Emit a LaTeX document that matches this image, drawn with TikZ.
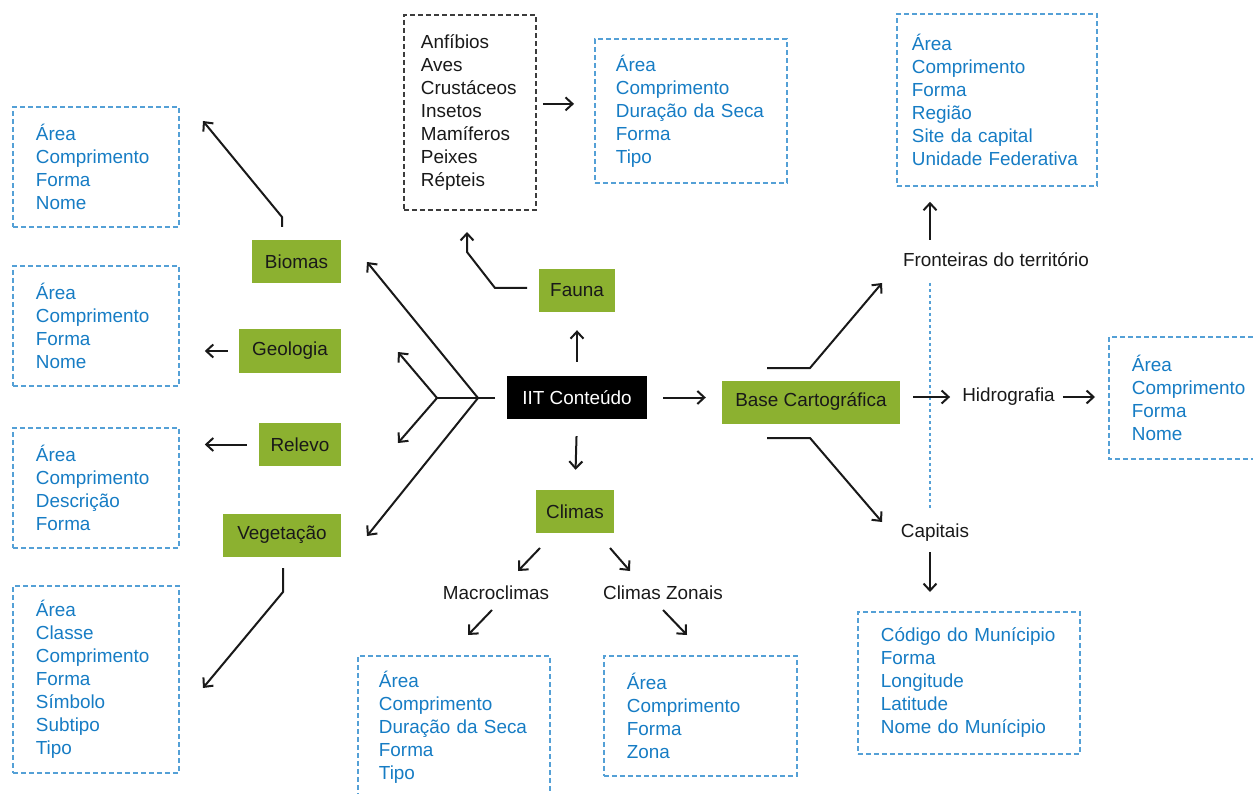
\documentclass[tikz,border=0pt]{standalone}
\usepackage{fontspec}
\setmainfont{Liberation Sans}
\usetikzlibrary{arrows.meta,calc}
\definecolor{leaf}{RGB}{140,177,48}
\definecolor{attrtext}{RGB}{22,124,196}
\definecolor{attrline}{RGB}{84,160,214}
\definecolor{ink}{RGB}{25,25,25}
\begin{document}
\begin{tikzpicture}[x=1pt,y=-1pt,
  every node/.style={font=\fontsize{18.9}{23}\selectfont, text=ink},
  greenbox/.style={fill=leaf, minimum height=43, inner sep=0pt},
  blackbox/.style={fill=black, minimum height=43, inner sep=0pt, text=white},
  dashline/.style={draw=attrline, dash pattern=on 5pt off 3pt, line width=1.8pt},
  attrbox/.style={dashline, anchor=north west, align=left, inner ysep=0pt, text=attrtext},
  animbox/.style={draw=ink!85, dash pattern=on 5pt off 3pt, line width=1.8pt,
    anchor=north west, align=left, inner ysep=0pt, text=ink},
  plain/.style={inner sep=0pt},
  arr/.style={draw=ink, line width=2pt, -{Straight Barb[length=7pt,width=13pt,line width=2pt]}},
  seg/.style={draw=ink, line width=2pt},
]
\useasboundingbox (0,0) rectangle (1253,794);

% ---------- green / black boxes ----------
\node[blackbox, minimum width=140] (iit) at (577,397.5) {IIT Conteúdo};
\node[greenbox, minimum width=76]  (fauna) at (577,290.5) {Fauna};
\node[greenbox, minimum width=78]  (climas) at (575,511.5) {Climas};
\node[greenbox, minimum width=178] (base) at (811,402) {Base Cartográfica};
\node[greenbox, minimum width=89]  (biomas) at (296.5,261.5) {Biomas};
\node[greenbox, minimum width=102] (geo) at (290,351) {Geologia};
\node[greenbox, minimum width=82]  (relevo) at (300,444.5) {Relevo};
\node[greenbox, minimum width=118] (veg) at (282,535) {Vegetação};

% ---------- attribute boxes ----------
\node[attrbox, minimum height=120, text width=120, inner xsep=23] (biobox) at (12,106)
  {Área\\Comprimento\\Forma\\Nome};
\node[attrbox, minimum height=120, text width=120, inner xsep=23] (geobox) at (12,265)
  {Área\\Comprimento\\Forma\\Nome};
\node[attrbox, minimum height=120, text width=120, inner xsep=23] (relbox) at (12,427)
  {Área\\Comprimento\\Descrição\\Forma};
\node[attrbox, minimum height=187, text width=120, inner xsep=23] (vegbox) at (12,585)
  {Área\\Classe\\Comprimento\\Forma\\Símbolo\\Subtipo\\Tipo};
\node[animbox, minimum height=195, text width=98, inner xsep=17] (anim) at (403,14)
  {Anfíbios\\Aves\\Crustáceos\\Insetos\\Mamíferos\\Peixes\\Répteis};
\node[attrbox, minimum height=144, text width=150, inner xsep=21] (faubox) at (594,38)
  {Área\\Comprimento\\Duração da Seca\\Forma\\Tipo};
\node[attrbox, minimum height=172, text width=170, inner xsep=15] (frbox) at (896,13)
  {Área\\Comprimento\\Forma\\Região\\Site da capital\\Unidade Federativa};
\node[attrbox, draw=none, minimum height=120, text width=170, inner xsep=22] (hidbox) at (1109,337)
  {Área\\Comprimento\\Forma\\Nome};
\draw[dashline] (hidbox.north east) -- (hidbox.north west) -- (hidbox.south west) -- (hidbox.south east);
\node[attrbox, minimum height=142, text width=176, inner xsep=23] (capbox) at (857,611)
  {Código do Munícipio\\Forma\\Longitude\\Latitude\\Nome do Munícipio};
\node[attrbox, minimum height=143, text width=150, inner xsep=21] (macbox) at (357,655)
  {Área\\Comprimento\\Duração da Seca\\Forma\\Tipo};
\node[attrbox, minimum height=120, text width=147, inner xsep=23] (zonbox) at (603,655)
  {Área\\Comprimento\\Forma\\Zona};

% ---------- plain labels ----------
\node[plain] (front) at (996,260) {Fronteiras do território};
\node[plain] (hidro) at (1008.5,397) {Hidrografia};
\node[plain] (cap) at (935,533) {Capitais};
\node[plain] (macro) at (496,593) {Macroclimas};
\node[plain] (zonais) at (663,593) {Climas Zonais};

% ---------- dotted blue line ----------
\coordinate (dotA) at (930,283);
\coordinate (dotB) at (930,510);
\draw[attrline, line width=1.8pt, dash pattern=on 3pt off 3pt] (dotA) -- (dotB);

% ---------- coordinates ----------
\coordinate (fanA) at (495,398);
\coordinate (fanB) at (478,398);
\coordinate (fanC) at (437,398);
\coordinate (tipBio) at (367,262);
\coordinate (tipVeg) at (367,536);
\coordinate (tipUp) at (398,352);
\coordinate (tipDn) at (398,443);
\coordinate (bioS) at (282,227);
\coordinate (bioK) at (282,217);
\coordinate (bioT) at (203,121);
\coordinate (vegS) at (283,568);
\coordinate (vegK) at (283,592);
\coordinate (vegT) at (203,688);
\coordinate (fauS) at (527,288);
\coordinate (fauK) at (495,288);
\coordinate (fauK2) at (467,252);
\coordinate (fauT) at (467,232);
\coordinate (fbS) at (767,368);
\coordinate (fbK) at (810,368);
\coordinate (fbT) at (882,283);
\coordinate (cbS) at (767,438);
\coordinate (cbK) at (810,438);
\coordinate (cbT) at (882,522);

% ---------- connectors ----------
\draw[arr, shorten <=14pt, shorten >=18pt] (iit.north) -- (fauna.south);
\draw[arr, shorten <=17pt, shorten >=20pt] (iit.south) -- (climas.north);
\draw[arr, shorten <=16pt, shorten >=16pt] (iit.east) -- (iit.east -| base.west);

\draw[seg] (fanA) -- (fanC);
\draw[arr] (fanB) -- (tipBio);
\draw[arr] (fanB) -- (tipVeg);
\draw[arr] (fanC) -- (tipUp);
\draw[arr] (fanC) -- (tipDn);

\draw[arr] (bioS) -- (bioK) -- (bioT);
\draw[arr, shorten <=11pt, shorten >=25pt] (geo.west) -- (geo.west -| geobox.east);
\draw[arr, shorten <=12pt, shorten >=25pt] (relevo.west) -- (relevo.west -| relbox.east);
\draw[arr] (vegS) -- (vegK) -- (vegT);

\draw[arr] (fauS) -- (fauK) -- (fauK2) -- (fauT);
\draw[arr, shorten <=6pt, shorten >=20pt] ([yshift=8.5pt]anim.east) -- ([yshift=8.5pt]anim.east -| faubox.west);

\draw[arr] (fbS) -- (fbK) -- (fbT);
\draw[arr] (cbS) -- (cbK) -- (cbT);
\draw[arr, shorten <=13pt, shorten >=12pt] (base.east |- hidro.west) -- (hidro.west);
\draw[arr, shorten <=8pt, shorten >=14pt] (hidro.east) -- (hidro.east -| hidbox.west);
\draw[arr, shorten <=13pt, shorten >=15pt] (front.north -| frbox.south west) ++(34,0) coordinate (frS) -- (frS |- frbox.south);
\draw[arr, shorten <=10pt, shorten >=19pt] (cap.south -| dotA) -- (dotA |- capbox.north);

\coordinate (c1S) at (540,548);
\coordinate (c1T) at (518,571);
\coordinate (c2S) at (610,548);
\coordinate (c2T) at (630,571);
\coordinate (m1S) at (492,610);
\coordinate (m1T) at (468,635);
\coordinate (z1S) at (663,610);
\coordinate (z1T) at (687,635);
\draw[arr] (c1S) -- (c1T);
\draw[arr] (c2S) -- (c2T);
\draw[arr] (m1S) -- (m1T);
\draw[arr] (z1S) -- (z1T);
\end{tikzpicture}
\end{document}
